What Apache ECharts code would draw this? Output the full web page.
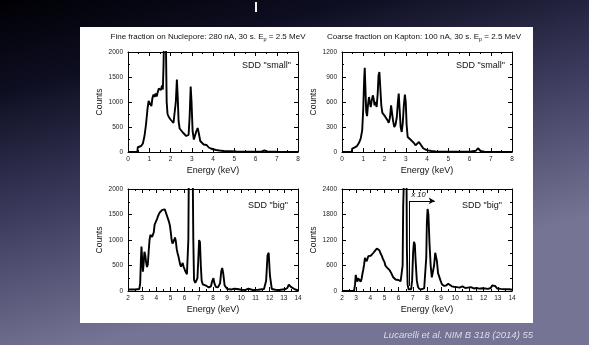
<!DOCTYPE html>
<html>
<head>
<meta charset="utf-8">
<script src="https://cdn.jsdelivr.net/npm/echarts@6/dist/echarts.min.js"></script>
<style>
html,body{margin:0;padding:0;}
#chart{width:589px;height:345px;}
</style>
</head>
<body>
<div id="chart"></div>
<script>
// spectra: [energy keV, counts]
var fineSmall = [[0,0],[0.44,0],[0.46,95],[0.55,100],[0.62,120],[0.70,170],[0.78,330],[0.85,560],[0.92,870],[0.97,1020],
  [1.02,1050],[1.06,980],[1.10,920],[1.15,1080],[1.20,1150],[1.25,1100],[1.30,1170],[1.35,1110],[1.40,1200],[1.45,1270],
  [1.50,1290],[1.55,1240],[1.60,1330],[1.64,1250],[1.67,1700],[1.70,2400],[1.74,3000],[1.78,2300],[1.82,1000],[1.86,760],
  [1.92,700],[2.00,650],[2.08,610],[2.14,580],[2.20,620],[2.25,1000],[2.30,1450],[2.34,1100],[2.38,620],[2.43,470],
  [2.50,430],[2.58,390],[2.66,360],[2.74,320],[2.80,300],[2.85,340],[2.90,700],[2.95,1310],[2.99,1000],[3.04,420],
  [3.10,250],[3.16,290],[3.22,420],[3.28,480],[3.33,380],[3.40,220],[3.48,180],[3.56,150],[3.63,160],[3.70,140],
  [3.80,90],[3.90,70],[4.00,55],[4.15,40],[4.30,30],[4.50,20],[4.80,15],[5.10,10],[5.50,8],[6.00,6],
  [6.30,10],[6.42,30],[6.55,8],[7.00,4],[7.50,2],[8.00,0]];

var coarseSmall = [[0,0],[0.46,0],[0.48,40],[0.60,55],[0.70,70],[0.80,110],[0.88,160],[0.95,260],[1.00,520],[1.04,850],
  [1.07,1010],[1.10,780],[1.14,480],[1.18,430],[1.22,560],[1.27,660],[1.31,600],[1.35,540],[1.40,620],[1.45,680],
  [1.49,640],[1.53,560],[1.58,600],[1.63,540],[1.68,700],[1.72,920],[1.76,960],[1.80,780],[1.85,560],[1.90,470],
  [1.96,450],[2.02,430],[2.08,410],[2.14,380],[2.20,350],[2.26,420],[2.31,560],[2.35,540],[2.40,380],[2.46,300],
  [2.52,330],[2.58,420],[2.63,600],[2.67,700],[2.71,520],[2.76,300],[2.81,240],[2.86,350],[2.91,560],[2.96,690],
  [3.00,600],[3.04,330],[3.09,180],[3.15,160],[3.22,150],[3.30,140],[3.38,110],[3.46,80],[3.54,95],[3.62,120],
  [3.68,115],[3.74,75],[3.82,45],[3.92,30],[4.05,20],[4.20,12],[4.40,8],[4.70,5],[5.00,4],[5.50,3],
  [6.00,3],[6.30,15],[6.40,45],[6.45,40],[6.52,12],[6.70,3],[7.20,2],[8.00,0]];

var fineBig = [[2.0,30],[2.5,30],[2.80,40],[2.86,150],[2.91,600],[2.95,870],[3.00,620],[3.05,380],[3.10,520],[3.16,770],
  [3.22,700],[3.28,560],[3.34,470],[3.40,520],[3.46,780],[3.52,1000],[3.58,1100],[3.64,1080],[3.70,1060],[3.76,1090],
  [3.82,1150],[3.88,1300],[3.94,1330],[4.00,1380],[4.06,1420],[4.12,1470],[4.18,1500],[4.24,1540],[4.30,1570],[4.36,1520],
  [4.42,1590],[4.48,1620],[4.54,1580],[4.60,1600],[4.66,1550],[4.72,1500],[4.78,1450],[4.84,1420],[4.90,1350],[4.96,1280],
  [5.02,1150],[5.08,1000],[5.14,930],[5.20,900],[5.26,1000],[5.32,1050],[5.38,970],[5.44,820],[5.50,740],[5.56,680],
  [5.62,600],[5.68,520],[5.74,480],[5.80,510],[5.86,550],[5.92,480],[5.98,440],[6.04,390],[6.10,370],[6.16,330],
  [6.22,330],[6.26,1000],[6.30,2600],[6.40,3000],[6.50,3000],[6.56,2600],[6.61,1000],[6.66,220],[6.75,160],[6.82,160],
  [6.90,250],[6.96,600],[7.02,1000],[7.08,960],[7.14,500],[7.20,200],[7.28,130],[7.40,110],[7.55,100],[7.70,70],
  [7.85,90],[7.95,200],[8.03,250],[8.10,150],[8.20,80],[8.35,70],[8.50,150],[8.58,380],[8.65,450],[8.72,350],
  [8.82,110],[9.00,40],[9.30,30],[9.50,45],[9.60,75],[9.70,40],[10.0,25],[10.3,20],[10.5,45],[10.6,35],
  [10.8,20],[11.2,25],[11.6,40],[11.75,200],[11.85,700],[11.93,750],[12.02,300],[12.15,40],[12.4,25],[12.7,20],
  [12.9,30],[13.1,35],[13.25,60],[13.35,125],[13.5,80],[13.8,30],[14.0,15]];

var coarseBig = [[2.0,0],[2.85,0],[2.92,150],[2.97,380],[3.02,350],[3.08,220],[3.14,300],[3.20,330],[3.26,260],[3.32,220],
  [3.38,280],[3.44,400],[3.50,500],[3.56,620],[3.62,780],[3.68,800],[3.74,700],[3.80,760],[3.86,820],[3.92,800],
  [3.98,850],[4.04,830],[4.10,800],[4.16,860],[4.22,900],[4.28,880],[4.34,950],[4.40,960],[4.46,1000],[4.52,990],
  [4.58,1030],[4.64,960],[4.70,900],[4.76,870],[4.82,820],[4.88,760],[4.94,720],[5.00,680],[5.06,600],[5.12,570],
  [5.18,550],[5.24,530],[5.30,510],[5.36,490],[5.42,470],[5.48,420],[5.54,380],[5.60,330],[5.66,310],[5.72,290],
  [5.78,270],[5.84,280],[5.90,260],[5.96,260],[6.02,250],[6.08,240],[6.14,230],[6.20,210],[6.25,190],[6.28,600],
  [6.32,2000],[6.40,3000],[6.50,3000],[6.55,3000],[6.58,1000],[6.63,150],[6.70,40],[6.80,30],[6.88,40],[6.95,250],
  [7.02,900],[7.08,1160],[7.14,1100],[7.20,700],[7.28,250],[7.36,100],[7.45,50],[7.60,40],[7.80,60],[7.92,70],
  [7.95,800],[7.99,1600],[8.04,1930],[8.10,1800],[8.18,1100],[8.26,600],[8.34,320],[8.42,300],[8.50,600],[8.58,900],
  [8.64,940],[8.70,700],[8.78,420],[8.86,380],[8.95,250],[9.05,160],[9.20,120],[9.35,130],[9.50,170],[9.60,150],
  [9.75,110],[9.90,100],[10.1,90],[10.3,80],[10.5,110],[10.7,70],[10.9,80],[11.1,90],[11.3,60],[11.5,70],
  [11.7,55],[11.9,65],[12.1,60],[12.3,50],[12.5,70],[12.6,130],[12.7,160],[12.8,120],[12.95,60],[13.2,50],
  [13.5,40],[13.8,40],[14.0,30]];

var spectra = [fineSmall, coarseSmall, fineBig, coarseBig];
var xMin = [0, 0, 2, 2];
var xMax = [8, 8, 14, 14];
var yMax = [2000, 1200, 2000, 2400];
var yStep = [500, 300, 500, 600];
var detectorLabels = ['SDD "small"', 'SDD "small"', 'SDD "big"', 'SDD "big"'];
// "x 10" arrow in the lower right panel (data coords)
var scaleNote = {x0: 6.76, x1: 8.55, yLow: 120, y: 2120};

var font = '"Liberation Sans", Arial, sans-serif';
var grids = [
  {left: 128, top: 52, width: 170, height: 100},
  {left: 342, top: 52, width: 170, height: 100},
  {left: 128, top: 189, width: 170, height: 102},
  {left: 342, top: 189, width: 170, height: 102}
];

var xAxes = [], yAxes = [], series = [];
grids.forEach(function (g, i) {
  var tick = {show: true, inside: true, length: 4, lineStyle: {color: '#000', width: 1}};
  var minor = {show: true, splitNumber: 2, length: 2, lineStyle: {color: '#000', width: 1}};
  var line = {show: true, onZero: false, lineStyle: {color: '#000', width: 1}};
  var lbl = {fontSize: 6.5, color: '#222', fontFamily: font, formatter: function (v) { return String(v); }};
  xAxes.push({
    gridIndex: i, type: 'value', position: 'bottom', min: xMin[i], max: xMax[i], interval: 1,
    axisLine: line, axisTick: tick, minorTick: minor, splitLine: {show: false},
    axisLabel: Object.assign({margin: 4}, lbl),
    name: 'Energy (keV)', nameLocation: 'middle', nameGap: 14,
    nameTextStyle: {fontSize: 9, color: '#111', fontFamily: font}
  });
  xAxes.push({
    gridIndex: i, type: 'value', position: 'top', min: xMin[i], max: xMax[i], interval: 1,
    axisLine: line, axisTick: tick, minorTick: minor, splitLine: {show: false},
    axisLabel: {show: false}
  });
  yAxes.push({
    gridIndex: i, type: 'value', position: 'left', min: 0, max: yMax[i], interval: yStep[i],
    axisLine: line, axisTick: tick, minorTick: minor, splitLine: {show: false},
    axisLabel: Object.assign({margin: 5}, lbl),
    name: 'Counts', nameLocation: 'middle', nameGap: 22,
    nameTextStyle: {fontSize: 8.5, color: '#111', fontFamily: font}
  });
  yAxes.push({
    gridIndex: i, type: 'value', position: 'right', min: 0, max: yMax[i], interval: yStep[i],
    axisLine: line, axisTick: tick, minorTick: minor, splitLine: {show: false},
    axisLabel: {show: false}
  });
  var s = {
    type: 'line', xAxisIndex: i * 2, yAxisIndex: i * 2, data: spectra[i],
    showSymbol: false, symbol: 'none', clip: true, animation: false,
    lineStyle: {color: '#000', width: 1.9}
  };
  if (i === 3) {
    s.markLine = {
      silent: true, animation: false, symbol: ['none', 'none'],
      lineStyle: {color: '#000', width: 1, type: 'solid'},
      label: {show: false},
      data: [
        [{coord: [scaleNote.x0, scaleNote.yLow]}, {coord: [scaleNote.x0, scaleNote.y]}],
        [{coord: [scaleNote.x0, scaleNote.y], symbol: 'none',
          label: {show: true, formatter: 'x 10', position: 'insideStartTop', distance: 2,
                  fontSize: 7.5, fontStyle: 'italic', color: '#000', fontFamily: font}},
         {coord: [scaleNote.x1, scaleNote.y], symbol: 'arrow', symbolSize: [5, 6]}]
      ]
    };
  }
  series.push(s);
});

var graphics = [
  {type: 'rect', z: -100, shape: {x: 0, y: 0, width: 589, height: 345},
   style: {fill: {type: 'linear', x: 0, y: 0, x2: 0.15, y2: 1, colorStops: [
     {offset: 0, color: '#000004'}, {offset: 0.25, color: '#0e0e22'},
     {offset: 0.6, color: '#3c3b5e'}, {offset: 1, color: '#767494'}]}}},
  {type: 'rect', z: -90, shape: {x: 80, y: 27, width: 453, height: 296}, style: {fill: '#ffffff'}},
  {type: 'rect', z: -90, shape: {x: 255, y: 2, width: 2, height: 10}, style: {fill: '#f4f4f4'}},
  {type: 'text', x: 208, y: 37, style: {
    text: '{a|Fine fraction on Nuclepore: 280 nA, 30 s. E}{s|p}{a| = 2.5 MeV}',
    align: 'center', verticalAlign: 'middle',
    rich: {a: {fontSize: 8, fontFamily: font, fill: '#111'}, s: {fontSize: 5.5, fontFamily: font, fill: '#111', padding: [4, 0, 0, 0]}}}},
  {type: 'text', x: 424, y: 37, style: {
    text: '{a|Coarse fraction on Kapton: 100 nA, 30 s. E}{s|p}{a| = 2.5 MeV}',
    align: 'center', verticalAlign: 'middle',
    rich: {a: {fontSize: 8, fontFamily: font, fill: '#111'}, s: {fontSize: 5.5, fontFamily: font, fill: '#111', padding: [4, 0, 0, 0]}}}},
  {type: 'text', x: 533, y: 335, style: {
    text: 'Lucarelli et al. NIM B 318 (2014) 55', align: 'right', verticalAlign: 'middle',
    fontSize: 9.5, fontStyle: 'italic', fontFamily: font, fill: '#dcdce8'}}
];
var labelPos = [[291, 66], [505, 66], [288, 206], [502, 206]];
detectorLabels.forEach(function (t, i) {
  graphics.push({type: 'text', x: labelPos[i][0], y: labelPos[i][1], style: {
    text: t, align: 'right', verticalAlign: 'middle', fontSize: 9, fontFamily: font, fill: '#111'}});
});

var chart = echarts.init(document.getElementById('chart'), null, {renderer: 'canvas'});
chart.setOption({
  animation: false,
  backgroundColor: 'transparent',
  grid: grids,
  xAxis: xAxes,
  yAxis: yAxes,
  series: series,
  graphic: graphics
});
</script>
</body>
</html>
